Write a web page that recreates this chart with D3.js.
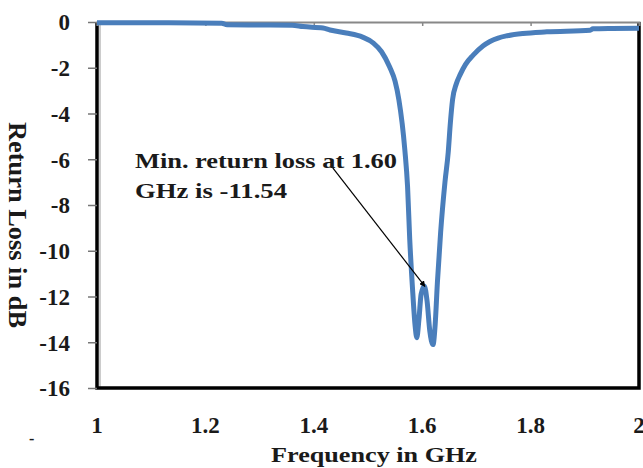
<!DOCTYPE html>
<html>
<head>
<meta charset="utf-8">
<script src="https://cdn.jsdelivr.net/npm/d3@7/dist/d3.min.js"></script>
<style>
  body { margin: 0; background: #fff; }
  text { font-family: "Liberation Serif", "Times New Roman", serif; font-weight: bold; fill: #1a1a1a; }
</style>
</head>
<body>
<svg id="chart" width="643" height="468"></svg>
<script>
// frequency (GHz) and return loss (dB)
const freq = [1.00, 1.10, 1.23, 1.24, 1.30, 1.36, 1.38, 1.417, 1.43, 1.46, 1.49, 1.51, 1.525, 1.54, 1.55, 1.557,
  1.568, 1.573, 1.577, 1.582, 1.587, 1.590, 1.594, 1.598, 1.604, 1.609, 1.614, 1.620, 1.624, 1.628, 1.634,
  1.642, 1.648, 1.652, 1.656, 1.663, 1.670, 1.680, 1.694, 1.712, 1.725, 1.740, 1.757, 1.786, 1.830, 1.910, 1.915, 1.95, 2.00];
const loss = [-0.03, -0.03, -0.05, -0.12, -0.13, -0.14, -0.2, -0.26, -0.35, -0.48, -0.66, -0.92, -1.3, -1.97, -2.6, -3.4,
  -5.6, -7.2, -9.5, -11.6, -13.3, -13.8, -13.0, -11.9, -11.54, -12.2, -13.5, -14.1, -13.2, -11.4, -9.2,
  -7.0, -5.7, -4.4, -3.4, -2.7, -2.3, -1.85, -1.45, -1.05, -0.85, -0.7, -0.6, -0.5, -0.43, -0.36, -0.3, -0.28, -0.27];

const xTicks = [1, 1.2, 1.4, 1.6, 1.8, 2];
const yTicks = [0, -2, -4, -6, -8, -10, -12, -14, -16];

const noteLines = ['Min. return loss at 1.60', 'GHz is -11.54'];
const noteFrom = [1.435, -6.38];   // where the leader leaves the text
const noteTo = [1.605, -11.56];    // the point it marks

const svg = d3.select('#chart');

const xScale = d3.scaleLinear().domain([1, 2]).range([97, 639]);
const yScale = d3.scaleLinear().domain([-16, 0]).range([388, 22]);

// plot frame: black left/bottom/right with a faint grey shadow
const frame = svg.append('g').attr('class', 'frame');
frame.append('line')
  .attr('x1', xScale(1) + 3).attr('x2', xScale(1) + 3)
  .attr('y1', yScale(0)).attr('y2', yScale(-16))
  .attr('stroke', '#bbb').attr('stroke-width', 1.5);
frame.append('path')
  .attr('d', `M${xScale(1)},${yScale(0)} V${yScale(-16)} H${xScale(2)} V${yScale(0)}`)
  .attr('fill', 'none').attr('stroke', '#000').attr('stroke-width', 3.5);

// y axis ticks and labels (plain hyphen, as in the original)
const yAxis = svg.append('g')
  .attr('transform', `translate(${xScale(1)},0)`)
  .call(d3.axisLeft(yScale).tickValues(yTicks).tickSize(9).tickPadding(18).tickFormat(d => String(d)));
yAxis.select('.domain').remove();
yAxis.selectAll('line').attr('stroke', '#777').attr('stroke-width', 1.5);
yAxis.selectAll('text')
  .attr('font-size', 23).attr('dy', '0.34em')
  .style('font-family', '"Liberation Serif", serif').style('font-weight', 'bold').attr('fill', '#1a1a1a');

// horizontal axis crosses at 0 (top edge), labels sit below the plot
const topAxis = svg.append('g')
  .attr('transform', `translate(0,${yScale(0)})`)
  .call(d3.axisBottom(xScale).tickValues(xTicks).tickSize(4).tickFormat(''));
topAxis.select('.domain').attr('stroke', '#888').attr('stroke-width', 2);
topAxis.selectAll('line').attr('stroke', '#888').attr('stroke-width', 1.5);

svg.append('g').selectAll('text')
  .data(xTicks)
  .join('text')
  .attr('x', d => xScale(d))
  .attr('y', 433)
  .attr('text-anchor', 'middle')
  .attr('font-size', 23)
  .text(d => String(d));

// curve
const line = d3.line()
  .x((d, i) => xScale(freq[i]))
  .y(d => yScale(d))
  .curve(d3.curveMonotoneX);

svg.append('path')
  .datum(loss)
  .attr('d', line)
  .attr('fill', 'none')
  .attr('stroke', '#4a7ebb')
  .attr('stroke-width', 5)
  .attr('stroke-linejoin', 'round');

// annotation
svg.append('defs').append('marker')
  .attr('id', 'arrow')
  .attr('viewBox', '0 0 10 10')
  .attr('refX', 9).attr('refY', 5)
  .attr('markerWidth', 5).attr('markerHeight', 5)
  .attr('orient', 'auto')
  .append('path').attr('d', 'M0,0 L10,5 L0,10 z').attr('fill', '#000');

svg.append('line')
  .attr('x1', xScale(noteFrom[0])).attr('y1', yScale(noteFrom[1]))
  .attr('x2', xScale(noteTo[0])).attr('y2', yScale(noteTo[1]))
  .attr('stroke', '#000').attr('stroke-width', 1.2)
  .attr('marker-end', 'url(#arrow)');

const noteLengths = [262, 152];
svg.append('g').selectAll('text')
  .data(noteLines)
  .join('text')
  .attr('x', 135)
  .attr('y', (d, i) => 168 + i * 30)
  .attr('font-size', 22)
  .attr('textLength', (d, i) => noteLengths[i])
  .attr('lengthAdjust', 'spacingAndGlyphs')
  .text(d => d);

// axis titles
svg.append('text')
  .attr('x', 374).attr('y', 462)
  .attr('text-anchor', 'middle')
  .attr('font-size', 22)
  .attr('textLength', 206)
  .attr('lengthAdjust', 'spacingAndGlyphs')
  .text('Frequency in GHz');

svg.append('text')
  .attr('transform', 'translate(9,225) rotate(90)')
  .attr('text-anchor', 'middle')
  .attr('font-size', 25)
  .attr('textLength', 206)
  .attr('lengthAdjust', 'spacingAndGlyphs')
  .attr('fill', '#1a2a4a')
  .text('Return Loss in dB');

// stray dash in the lower-left corner of the original
svg.append('text')
  .attr('x', 29).attr('y', 444)
  .attr('font-size', 16)
  .text('-');
</script>
</body>
</html>
